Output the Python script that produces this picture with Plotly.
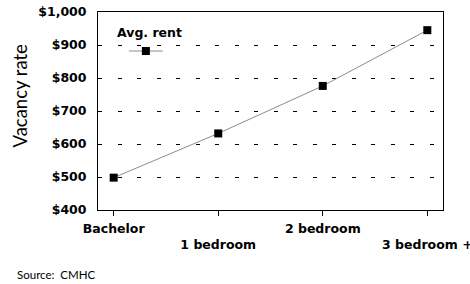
import plotly.graph_objects as go

categories = ["Bachelor", "1 bedroom", "2 bedroom", "3 bedroom +"]
tick_labels = ["Bachelor", "<br>1 bedroom", "2 bedroom", "<br>3 bedroom +"]
avg_rent = [498, 632, 776, 945]
y_ticks = [400, 500, 600, 700, 800, 900, 1000]
y_tick_labels = ["$400", "$500", "$600", "$700", "$800", "$900", "$1,000"]

BOLD = "DejaVu Sans"
REG = "Lato"

fig = go.Figure()
fig.add_trace(go.Scatter(
    x=list(range(len(categories))), y=avg_rent, mode="lines+markers",
    name="", showlegend=True,
    line=dict(color="#8c8c8c", width=1),
    marker=dict(symbol="square", size=8, color="black"),
))

fig.update_layout(
    width=470, height=284,
    margin=dict(l=98, r=27, t=12, b=74),
    paper_bgcolor="white", plot_bgcolor="white",
    font=dict(family=REG, color="black"),
    showlegend=True,
    legend=dict(
        x=0.075, y=0.803, xanchor="left", yanchor="middle",
        bgcolor="rgba(0,0,0,0)", font=dict(size=11), itemwidth=34,
    ),
    xaxis=dict(
        range=[-0.15, 3.15], tickmode="array", automargin=False,
        tickvals=list(range(len(categories))), ticktext=["<b>%s</b>" % t for t in tick_labels],
        tickfont=dict(size=12.5, family=BOLD), ticks="outside", ticklen=5, tickcolor="black",
        ticklabelstandoff=2, ticklabeloverflow="allow",
        showline=True, linecolor="black", linewidth=1, mirror=True,
        showgrid=False, zeroline=False,
    ),
    yaxis=dict(
        range=[400, 1000], tickmode="array", tickvals=y_ticks, automargin=False,
        ticktext=["<b>%s</b>" % t for t in y_tick_labels],
        tickfont=dict(size=12.5, family=BOLD), ticklabelstandoff=8,
        showline=True, linecolor="black", linewidth=1, mirror=True,
        showgrid=True, gridcolor="black", griddash="4px,15.5px", gridwidth=1,
        zeroline=False,
    ),
)

fig.add_annotation(
    text="Vacancy rate", textangle=-90, x=-0.225, y=0.58, xref="paper", yref="paper",
    showarrow=False, xanchor="center", yanchor="middle",
    font=dict(size=18.5, family=REG),
)
fig.add_annotation(
    text="<b>Avg. rent</b>", x=0.049, y=0.894, xref="paper", yref="paper",
    showarrow=False, xanchor="left", yanchor="middle",
    font=dict(size=12.5, family=BOLD),
)
fig.add_annotation(
    text="Source:  CMHC", x=0, y=0, xref="paper", yref="paper",
    xshift=-83, yshift=-64, showarrow=False, xanchor="left", yanchor="middle",
    font=dict(size=11.5, family=REG),
)

fig.write_html("out.html", config={"displayModeBar": False},
               post_script="document.body.style.margin='0';")
